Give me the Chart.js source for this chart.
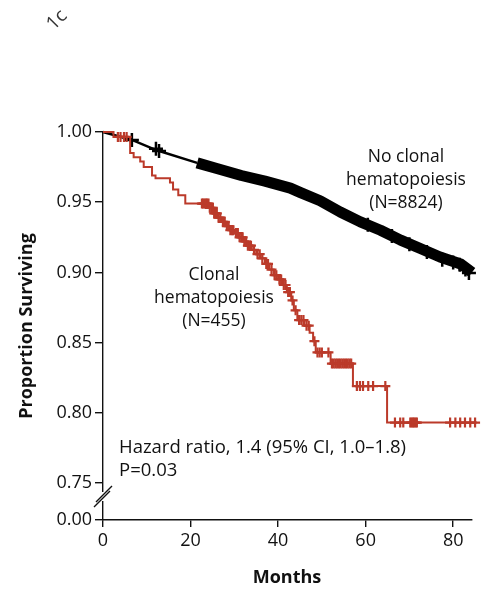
<!DOCTYPE html>
<html><head><meta charset="utf-8">
<script src="https://cdn.jsdelivr.net/npm/chart.js@4/dist/chart.umd.min.js"></script>
<style>html,body{margin:0;padding:0;background:#fff;}#wrap{width:495px;height:600px;}</style>
</head><body><div id="wrap"><canvas id="c" width="495" height="600"></canvas></div>
<script>
// ---- data ----
const xTickValues = [0, 20, 40, 60, 80];
const yTickValues = [0.75, 0.80, 0.85, 0.90, 0.95, 1.00];
const yBreakLabel = "0.00";

// No clonal hematopoiesis (N=8824)
const blackMonths = [0, 6.6, 12.3, 21.5, 26, 31.6, 37, 42.8, 45, 49.6, 54.2, 58.8, 63.4, 68, 72.5, 77, 81.7, 84.3];
const blackSurv   = [1.000, 0.9943, 0.987, 0.978, 0.974, 0.969, 0.965, 0.960, 0.957, 0.951, 0.943, 0.936, 0.930, 0.923, 0.917, 0.911, 0.906, 0.900];
const blackDenseCensorFrom = 21.5;
const blackCensorMonths = [6.6, 12.1, 12.8, 60.5, 66, 70, 74, 77.5, 80, 81.5, 82.8, 83.6];
const blackCensorSurv   = [0.9943, 0.988, 0.9865, 0.934, 0.926, 0.920, 0.9145, 0.909, 0.907, 0.9055, 0.902, 0.8995];

// Clonal hematopoiesis (N=455)
const redMonths = [0, 2.4, 6.2, 7.0, 8.5, 9.3, 11.2, 12.0, 15.3, 16.0, 17.2, 18.8, 24.2, 25.2, 26.2, 27.0, 28.0, 29.0, 30.0, 31.0, 32.0, 33.0, 34.0, 35.0, 36.0, 37.0, 38.0, 39.0, 40.0, 41.0, 42.0, 43.0, 43.6, 44.4, 46.0, 47.2, 48.0, 48.6, 52.0, 57.1, 64.9, 85.4];
const redSurv   = [1.000, 0.9965, 0.985, 0.982, 0.979, 0.975, 0.969, 0.967, 0.964, 0.959, 0.955, 0.949, 0.946, 0.942, 0.939, 0.936, 0.933, 0.930, 0.928, 0.925, 0.922, 0.919, 0.916, 0.913, 0.910, 0.906, 0.902, 0.898, 0.895, 0.891, 0.886, 0.880, 0.873, 0.866, 0.862, 0.857, 0.851, 0.843, 0.835, 0.819, 0.793, 0.793];
const redCensorMonths = [3.4, 4.0, 4.8, 5.4,
  22.6, 22.9, 23.2, 23.5, 23.8, 24.1, 24.4, 24.8, 25.1, 25.4, 25.7, 26.0, 26.4, 26.8, 27.4, 27.8, 28.3, 28.7, 29.1, 29.5, 29.8, 30.4, 30.8, 31.2, 31.6, 31.9, 32.3, 32.7, 33.1, 33.5, 33.8,
  34.5, 35.3, 35.8, 36.4, 37.3, 37.7, 38.5, 39.2, 39.6, 40.3, 40.7, 41.3, 41.7, 42.3, 42.7, 43.3, 44.0, 44.8, 45.3, 45.8, 46.5, 47.0,
  48.3, 49.0, 49.5, 50.0, 51.5, 52.3, 52.7, 53.1, 53.5, 53.9, 54.3, 54.7, 55.1, 55.5, 55.9, 56.3, 56.7,
  58.0, 58.7, 59.4, 60.6, 61.7, 64.5, 66.7, 67.9, 68.6, 70.2, 70.5, 70.8, 71.1, 71.4, 71.7, 79.3, 80.5, 81.6, 82.7, 83.9, 85.0];

const seriesLabels = ["No clonal hematopoiesis (N=8824)", "Clonal hematopoiesis (N=455)"];
const xTitle = "Months";
const yTitle = "Proportion Surviving";
const hazardText = ["Hazard ratio, 1.4 (95% CI, 1.0\u20131.8)", "P=0.03"];
const blackNote = ["No clonal", "hematopoiesis", "(N=8824)"];
const redNote = ["Clonal", "hematopoiesis", "(N=455)"];
const cornerFragment = "1c";

// ---- layout / style ----
const Y_FLOOR = 0.7236;   // position where the broken axis shows 0.00
const X_MAX = 84.3;
const RED = "#bb3a2a";
const INK = "#111";
const FONT = "'Open Sans', 'DejaVu Sans', sans-serif";

function stepAt(months, surv, t) {
  let s = surv[0];
  for (let i = 0; i < months.length; i++) if (months[i] <= t) s = surv[i];
  return s;
}
const pts = (xs, ys) => xs.map((x, i) => ({x, y: ys[i]}));
const blackThin = pts(blackMonths, blackSurv).filter(p => p.x <= blackDenseCensorFrom);
const blackBand = pts(blackMonths, blackSurv).filter(p => p.x >= blackDenseCensorFrom);

const annot = {
  id: 'annot',
  afterDraw(chart) {
    const ctx = chart.ctx;
    const xs = chart.scales.x;
    ctx.save();
    ctx.fillStyle = INK;
    ctx.font = "17.5px " + FONT;
    ctx.textAlign = 'center'; ctx.textBaseline = 'middle';
    [157, 180, 203].forEach((y, i) => ctx.fillText(blackNote[i], 406, y));
    [275, 298, 321].forEach((y, i) => ctx.fillText(redNote[i], 214, y));
    ctx.textAlign = 'left';
    ctx.font = "18.5px " + FONT;
    ctx.fillText(hazardText[0], 119, 448);
    ctx.fillText(hazardText[1], 119, 471);
    // axis titles
    ctx.font = "bold 18px " + FONT;
    ctx.textAlign = 'center';
    ctx.fillText(xTitle, 287, 578);
    ctx.save();
    ctx.translate(27, 326); ctx.rotate(-Math.PI / 2);
    ctx.fillText(yTitle, 0, 0);
    ctx.restore();
    // corner fragment
    ctx.save();
    ctx.fillStyle = "#333";
    ctx.font = "19px " + FONT;
    ctx.translate(57, 20); ctx.rotate(-Math.PI / 4);
    ctx.fillText(cornerFragment, 0, 0);
    ctx.restore();
    // axis break marks
    const ax = xs.left, cy = 497;
    ctx.fillStyle = '#fff';
    ctx.fillRect(ax - 2, cy - 5, 4, 9);
    ctx.strokeStyle = INK; ctx.lineWidth = 1.4;
    ctx.beginPath();
    ctx.moveTo(ax - 7, cy + 5); ctx.lineTo(ax + 9, cy - 11);
    ctx.moveTo(ax - 9, cy + 10); ctx.lineTo(ax + 7, cy - 6);
    ctx.stroke();
    ctx.restore();
  }
};

new Chart(document.getElementById('c'), {
  type: 'line',
  data: {
    datasets: [
      { label: seriesLabels[1] + " censored", type: 'scatter',
        data: redCensorMonths.map(t => ({x: t, y: stepAt(redMonths, redSurv, t)})),
        pointStyle: 'cross', radius: 5, borderColor: RED, borderWidth: 2.2, clip: false, order: 0 },
      { label: seriesLabels[1], data: pts(redMonths, redSurv), stepped: 'before',
        borderColor: RED, borderWidth: 2, pointRadius: 0, fill: false, clip: false, order: 1 },
      { label: seriesLabels[0] + " censored", type: 'scatter',
        data: pts(blackCensorMonths, blackCensorSurv),
        pointStyle: 'cross', radius: 7, borderColor: '#000', borderWidth: 2.5, clip: false, order: 2 },
      { label: seriesLabels[0], data: blackThin, borderColor: '#000', borderWidth: 2.4,
        pointRadius: 0, fill: false, clip: false, order: 3 },
      { label: seriesLabels[0] + " (dense censoring)", data: blackBand, borderColor: '#000', borderWidth: 11,
        borderCapStyle: 'butt', borderJoinStyle: 'round', pointRadius: 0, fill: false, clip: false, order: 4 }
    ]
  },
  options: {
    responsive: false, animation: false, devicePixelRatio: 1,
    layout: { padding: { top: 132, right: 23, bottom: 0, left: 0 } },
    plugins: { legend: { display: false }, tooltip: { enabled: false } },
    scales: {
      x: {
        type: 'linear', min: 0, max: X_MAX,
        afterBuildTicks: s => { s.ticks = xTickValues.map(v => ({value: v})); },
        afterFit: s => { s.height = 80; },
        ticks: { color: INK, font: { family: FONT, size: 18 }, padding: 3, maxRotation: 0,
                 callback: v => String(v) },
        grid: { display: true, drawOnChartArea: false, drawTicks: true, tickLength: 7, color: INK, lineWidth: 1.4 },
        border: { display: true, color: INK, width: 1.4 }
      },
      y: {
        type: 'linear', min: Y_FLOOR, max: 1.0,
        afterBuildTicks: s => { s.ticks = [Y_FLOOR].concat(yTickValues).map(v => ({value: v})); },
        afterFit: s => { s.width = 103; },
        ticks: { color: INK, font: { family: FONT, size: 18 }, padding: 3,
                 callback: v => (v === Y_FLOOR ? yBreakLabel : v.toFixed(2)) },
        grid: { display: true, drawOnChartArea: false, drawTicks: true, tickLength: 8, color: INK, lineWidth: 1.4 },
        border: { display: true, color: INK, width: 1.4 }
      }
    }
  },
  plugins: [annot]
});
</script></body></html>
